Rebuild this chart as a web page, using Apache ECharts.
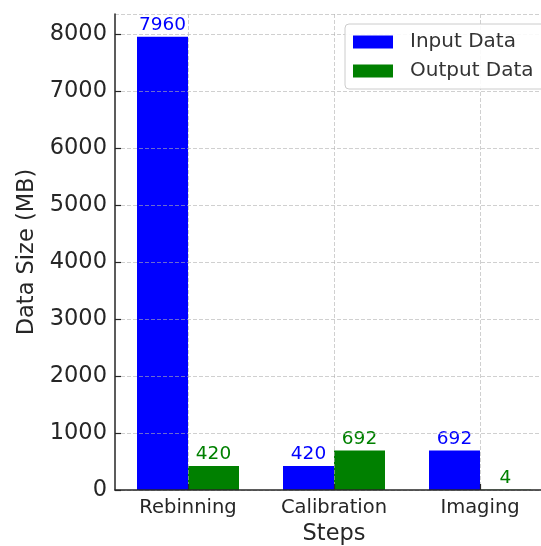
<!DOCTYPE html>
<html>
<head>
<meta charset="utf-8">
<script src="https://cdn.jsdelivr.net/npm/echarts@6/dist/echarts.min.js"></script>
<style>
  html, body { margin: 0; padding: 0; background: #fff; }
  #chart { width: 541px; height: 546px; }
</style>
</head>
<body>
<div id="chart"></div>
<script>
// Data volume per pipeline step
const steps = ['Rebinning', 'Calibration', 'Imaging'];
const inputData = [7960, 420, 692];
const outputData = [420, 692, 4];
const yTicksMax = 8000;

const FONT = 'DejaVu Sans';
const TEXT = '#262626';
const GRID = 'rgba(176,176,176,0.6)';

const chart = echarts.init(document.getElementById('chart'), null, { renderer: 'canvas' });

// 5% headroom above the tallest bar
const yMax = Math.max(...inputData, ...outputData) * 1.05;

function barLabel(color) {
  return {
    show: true,
    position: 'top',
    distance: 2,
    color: color,
    fontFamily: FONT,
    fontSize: 18.5
  };
}

chart.setOption({
  animation: false,
  textStyle: { fontFamily: FONT },
  grid: {
    left: 115, top: 14, width: 438, height: 476,
    containLabel: false,
    outerBoundsMode: 'none'
  },
  legend: {
    orient: 'vertical',
    left: 345,
    top: 24,
    z: 4,
    padding: [8, 12, 8, 8],
    itemWidth: 40,
    itemHeight: 13,
    itemGap: 9,
    icon: 'rect',
    backgroundColor: 'rgba(255,255,255,0.9)',
    borderColor: '#cccccc',
    borderWidth: 1,
    borderRadius: 4,
    textStyle: { fontFamily: FONT, fontSize: 20, color: '#333', padding: [0, 0, 0, 12] },
    data: ['Input Data', 'Output Data']
  },
  xAxis: [
    {
      type: 'category',
      data: steps,
      z: 3,
      name: 'Steps',
      nameLocation: 'middle',
      nameGap: 31,
      nameTextStyle: { fontFamily: FONT, fontSize: 22.5, color: TEXT },
      axisLine: { lineStyle: { color: TEXT, width: 1.5 } },
      axisTick: { show: true, inside: true, length: 6, alignWithLabel: true, lineStyle: { color: TEXT, width: 1.2 } },
      axisLabel: { fontFamily: FONT, fontSize: 19.5, color: TEXT, margin: 8 },
      splitLine: { show: false }
    },
    {
      // helper axis: vertical grid lines through the category centres
      type: 'category',
      data: ['', 'a', '', 'b', '', 'c', ''],
      boundaryGap: false,
      position: 'bottom',
      z: 3,
      axisLine: { show: false },
      axisTick: { show: false },
      axisLabel: { show: false },
      splitLine: {
        show: true,
        interval: function (i) { return i % 2 === 1; },
        lineStyle: { color: GRID, type: [4, 2], width: 1 }
      }
    }
  ],
  yAxis: {
    type: 'value',
    min: 0,
    max: yMax,
    interval: 1000,
    z: 3,
    name: 'Data Size (MB)',
    nameLocation: 'middle',
    nameGap: 76,
    nameTextStyle: { fontFamily: FONT, fontSize: 22.5, color: TEXT },
    axisLine: { show: true, lineStyle: { color: TEXT, width: 1.5 } },
    axisTick: { show: true, inside: true, length: 6, lineStyle: { color: TEXT, width: 1.2 } },
    axisLabel: {
      fontFamily: FONT, fontSize: 22.5, color: TEXT, margin: 8,
      showMaxLabel: false,
      formatter: function (v) { return v <= yTicksMax ? String(v) : ''; }
    },
    splitLine: { show: true, lineStyle: { color: GRID, type: [4, 2], width: 1 } }
  },
  series: [
    {
      name: 'Input Data',
      type: 'bar',
      xAxisIndex: 0,
      data: inputData,
      barWidth: 51,
      barGap: '0%',
      itemStyle: { color: '#0000ff' },
      label: barLabel('#0000ff')
    },
    {
      name: 'Output Data',
      type: 'bar',
      xAxisIndex: 0,
      data: outputData,
      barWidth: 51,
      barGap: '0%',
      itemStyle: { color: '#008000' },
      label: barLabel('#008000')
    }
  ]
});
</script>
</body>
</html>
